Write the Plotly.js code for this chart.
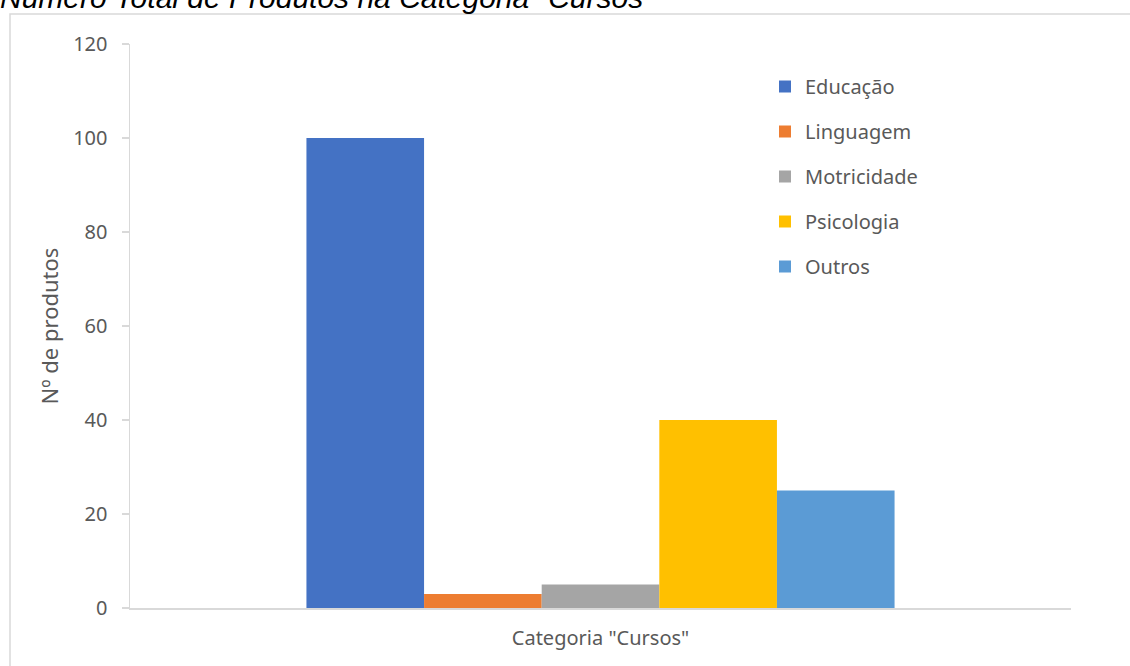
<!DOCTYPE html>
<html>
<head>
<meta charset="utf-8">
<script src="https://cdn.plot.ly/plotly-3.0.1.min.js"></script>
<style>html,body{margin:0;padding:0;background:#fff;}#chart{width:1130px;height:666px;}</style>
</head>
<body>
<div id="chart"></div>
<script>
const category = ['Categoria "Cursos"'];
const seriesNames = ['Educação', 'Linguagem', 'Motricidade', 'Psicologia', 'Outros'];
const seriesValues = [100, 3, 5, 40, 25];
const seriesColors = ['#4472C4', '#ED7D31', '#A5A5A5', '#FFC000', '#5B9BD5'];
const yTicks = [0, 20, 40, 60, 80, 100, 120];

const W = 1130, H = 666;
const m = {l: 130, r: 59, t: 44, b: 58};
const pw = W - m.l - m.r, ph = H - m.t - m.b;
const px = v => (v - m.l) / pw;
const py = v => (H - m.b - v) / ph;

const traces = seriesNames.map((name, i) => ({
  type: 'bar',
  name: name,
  x: category,
  y: [seriesValues[i]],
  marker: {color: seriesColors[i], line: {width: 0}},
  legendgroup: 'g' + i,
  hoverinfo: 'skip'
}));

const font = 'Noto Sans, Open Sans, sans-serif';
const layout = {
  width: W, height: H,
  margin: m,
  paper_bgcolor: '#ffffff',
  plot_bgcolor: '#ffffff',
  barmode: 'group',
  bargap: 0.375,
  bargroupgap: 0,
  showlegend: true,
  title: {
    text: 'Número Total de Produtos na Categoria "Cursos"',
    font: {family: 'Liberation Sans, Arial, sans-serif', size: 30, color: '#000000', style: 'italic'},
    xref: 'container', yref: 'container',
    x: 0, xanchor: 'left',
    y: (H - 8) / H, yanchor: 'bottom',
    pad: {l: 0, t: 0, b: 0, r: 0}
  },
  legend: {
    x: px(765), xanchor: 'left',
    y: py(67), yanchor: 'top',
    font: {family: font, size: 20, color: '#595959'},
    traceorder: 'grouped',
    tracegroupgap: 16,
    itemwidth: 30,
    bgcolor: 'rgba(0,0,0,0)'
  },
  xaxis: {
    type: 'category',
    showgrid: false,
    showline: true,
    linecolor: '#D9D9D9',
    linewidth: 1.5,
    ticks: '',
    ticklabelstandoff: 11,
    tickfont: {family: font, size: 20, color: '#595959'},
    zeroline: false,
    fixedrange: true
  },
  yaxis: {
    range: [0, 120],
    tickvals: yTicks,
    ticktext: yTicks.map(String),
    showgrid: false,
    zeroline: false,
    showline: true,
    linecolor: '#D9D9D9',
    linewidth: 1.5,
    ticks: 'outside',
    ticklen: 7,
    tickcolor: '#D9D9D9',
    tickwidth: 1.5,
    ticklabelstandoff: 10,
    tickfont: {family: font, size: 20, color: '#595959'},
    title: {text: 'Nº de produtos', font: {family: font, size: 22, color: '#595959'}, standoff: 8},
    fixedrange: true
  },
  shapes: [{
    type: 'rect', xref: 'paper', yref: 'paper',
    x0: px(10), x1: px(1140), y0: py(680), y1: py(14),
    line: {color: '#D9D9D9', width: 1.5},
    fillcolor: 'rgba(0,0,0,0)',
    layer: 'below'
  }]
};

Plotly.newPlot('chart', traces, layout, {staticPlot: true, displayModeBar: false});
</script>
</body>
</html>
